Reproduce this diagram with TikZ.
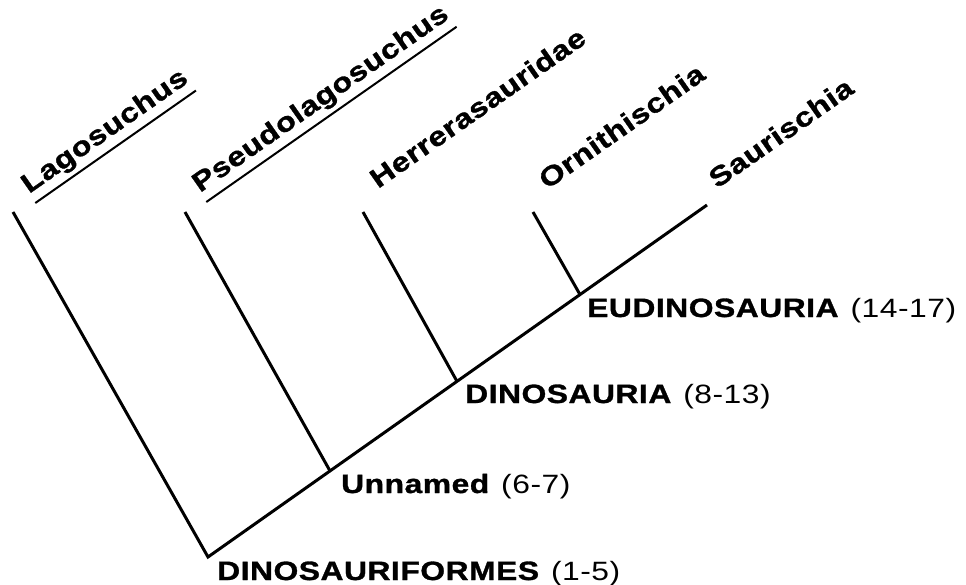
\documentclass[tikz,border=0pt]{standalone}
\usepackage{fontspec}
\newfontfamily\lblfont[FakeStretch=1.2,LetterSpace=2,BoldFeatures={FakeBold=1.2}]{Liberation Sans}
\usetikzlibrary{calc}
\begin{document}
\begin{tikzpicture}[x=1pt,y=-1pt,
  branch/.style={line width=3pt,line join=miter,black},
  ul/.style={line width=2pt,black},
  taxon/.style={rotate=35,anchor=base west,inner sep=0pt,font=\lblfont\bfseries\fontsize{27}{30}\selectfont},
  clade/.style={anchor=base west,inner sep=0pt,font=\lblfont\bfseries\fontsize{26.5}{30}\selectfont}]
\useasboundingbox[fill=white] (0,0) rectangle (966,584);
% tree coordinates
\coordinate (root) at (208,557);
\coordinate (t5) at (707,205);
\coordinate (n1) at ($(root)!0.2445!(t5)$);
\coordinate (n2) at ($(root)!0.4990!(t5)$);
\coordinate (n3) at ($(root)!0.7455!(t5)$);
\coordinate (t1) at (13,212);
\coordinate (t2) at (185,212);
\coordinate (t3) at (363,212);
\coordinate (t4) at (533,212);
% branches
\draw[branch] (t1) -- (root) -- (n1) -- (n2) -- (n3) -- (t5);
\draw[branch] (t2) -- (n1);
\draw[branch] (t3) -- (n2);
\draw[branch] (t4) -- (n3);
% taxon labels
\node[taxon] (lago) at (29,194) {Lagosuchus};
\node[taxon] (pseudo) at (200,193) {Pseudolagosuchus};
\node[taxon] (herr) at (378,189) {Herrerasauridae};
\node[taxon] (orni) at (547,190) {Ornithischia};
\node[taxon] (saur) at (717,189) {Saurischia};
\draw[ul] ($(lago.base west)!11pt!-90:(lago.base east)$) -- ($(lago.base east)!11pt!90:(lago.base west)$);
\draw[ul] ($(pseudo.base west)!11pt!-90:(pseudo.base east)$) -- ($(pseudo.base east)!11pt!90:(pseudo.base west)$);
% clade labels
\node[clade] (cl0) at (217,580) {DINOSAURIFORMES\hspace{0.45em}{\mdseries(1-5)}};
\node[clade] (cl1) at (341,493) {Unnamed\hspace{0.45em}{\mdseries(6-7)}};
\node[clade] (cl2) at (465,403) {DINOSAURIA\hspace{0.45em}{\mdseries(8-13)}};
\node[clade] (cl3) at (587,317) {EUDINOSAURIA\hspace{0.45em}{\mdseries(14-17)}};
\end{tikzpicture}
\end{document}
